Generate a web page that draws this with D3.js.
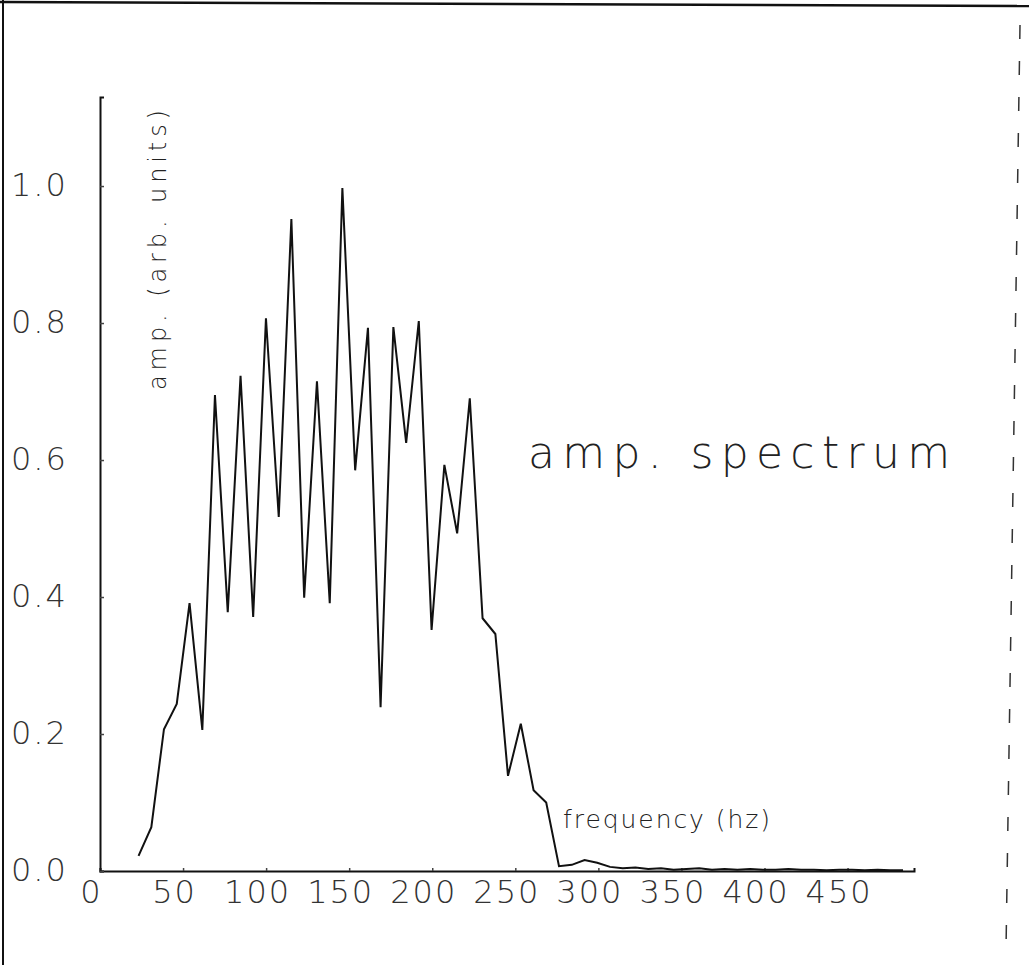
<!DOCTYPE html>
<html>
<head>
<meta charset="utf-8">
<title>amp. spectrum</title>
<script src="https://d3js.org/d3.v7.min.js"></script>
<style>
  body { margin: 0; background: #fff; }
  svg { display: block; }
  .tick text { font-family: "DejaVu Sans", sans-serif; font-weight: 200; font-size: 32px; fill: #333; letter-spacing: 2px; }
  .label { font-family: "DejaVu Sans", sans-serif; font-weight: 200; fill: #222; }
</style>
</head>
<body>
<svg width="1029" height="965"></svg>
<script>
// frequency of each spectral sample (hz)
var freqs = [23.2, 30.9, 38.5, 46.2, 53.9, 61.6, 69.2, 76.9, 84.6, 92.2,
             99.9, 107.6, 115.2, 122.9, 130.6, 138.3, 145.9, 153.6, 161.3, 168.9,
             176.6, 184.3, 191.9, 199.6, 207.3, 215.0, 222.6, 230.3, 238.0, 245.6,
             253.3, 261.0, 268.6, 276.3, 284.0, 291.7, 299.3, 307.0, 314.7, 322.3,
             330.0, 337.7, 345.3, 353.0, 360.7, 368.4, 376.0, 383.7, 391.4, 399.0,
             406.7, 414.4, 422.0, 429.7, 437.4, 445.1, 452.7, 460.4, 468.1, 475.7,
             483.4];
// amplitude (arb. units)
var amps = [0.022, 0.064, 0.207, 0.244, 0.391, 0.206, 0.695, 0.378, 0.723, 0.371,
            0.807, 0.517, 0.952, 0.399, 0.715, 0.391, 0.997, 0.585, 0.793, 0.239,
            0.794, 0.625, 0.803, 0.352, 0.593, 0.493, 0.690, 0.369, 0.346, 0.139,
            0.215, 0.118, 0.100, 0.007, 0.009, 0.016, 0.012, 0.006, 0.004, 0.005,
            0.003, 0.004, 0.002, 0.003, 0.004, 0.002, 0.003, 0.002, 0.003, 0.002,
            0.002, 0.003, 0.002, 0.002, 0.001, 0.002, 0.002, 0.001, 0.002, 0.001,
            0.001];
var xTicks = [0, 50, 100, 150, 200, 250, 300, 350, 400, 450];
var yTicks = [0.0, 0.2, 0.4, 0.6, 0.8, 1.0];

var svg = d3.select("svg");

var x = d3.scaleLinear().domain([0, 490]).range([100, 914]);
var y = d3.scaleLinear().domain([0, 1.13]).range([871, 97]);

// scanned page frame
svg.append("line").attr("x1", 0).attr("y1", 2).attr("x2", 1029).attr("y2", 6)
  .attr("stroke", "#111").attr("stroke-width", 2.5);
svg.append("line").attr("x1", 3).attr("y1", 0).attr("x2", 3).attr("y2", 965)
  .attr("stroke", "#111").attr("stroke-width", 2);
svg.append("line").attr("x1", 1020).attr("y1", 25).attr("x2", 1006).attr("y2", 950)
  .attr("stroke", "#333").attr("stroke-width", 1.5).attr("stroke-dasharray", "14 22");

var xAxis = d3.axisBottom(x).tickValues(xTicks).tickSize(-3).tickFormat(d3.format("d"));
var gx = svg.append("g")
  .attr("transform", "translate(0," + y(0) + ")")
  .call(xAxis);
gx.selectAll(".tick text").attr("y", 32).attr("dy", null).attr("dx", -9);

var yAxis = d3.axisLeft(y).tickValues(yTicks).tickSize(-4).tickFormat(d3.format(".1f"));
var gy = svg.append("g")
  .attr("transform", "translate(" + x(0) + ",0)")
  .call(yAxis);
gy.selectAll(".tick text")
  .attr("text-anchor", "start")
  .attr("x", -89)
  .attr("dy", "0.3em");

svg.selectAll(".domain").attr("stroke", "#111").attr("stroke-width", 2);
svg.selectAll(".tick line").attr("stroke", "#444").attr("stroke-width", 1.5);

var line = d3.line()
  .x(function(d, i) { return x(freqs[i]); })
  .y(function(d) { return y(d); });

svg.append("path")
  .datum(amps)
  .attr("d", line)
  .attr("fill", "none")
  .attr("stroke", "#111")
  .attr("stroke-width", 2);

// titles
svg.append("text").attr("class", "label")
  .attr("x", 528).attr("y", 468)
  .attr("font-size", 44)
  .attr("textLength", 422).attr("lengthAdjust", "spacing")
  .text("amp. spectrum");

svg.append("text").attr("class", "label")
  .attr("x", 563).attr("y", 828)
  .attr("font-size", 25)
  .attr("textLength", 207).attr("lengthAdjust", "spacing")
  .text("frequency (hz)");

svg.append("text").attr("class", "label")
  .attr("transform", "translate(166,390) rotate(-90)")
  .attr("font-size", 24)
  .attr("textLength", 280).attr("lengthAdjust", "spacing")
  .text("amp. (arb. units)");
</script>
</body>
</html>
